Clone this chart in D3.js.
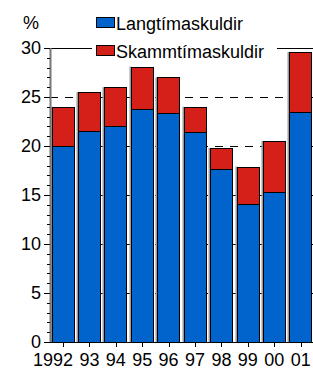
<!DOCTYPE html>
<html>
<head>
<meta charset="utf-8">
<title>Skuldir</title>
<style>
  body { margin: 0; background: #fff; }
  text { font-family: "Liberation Sans", Arial, Helvetica, sans-serif; font-size: 18px; fill: #000; }
</style>
</head>
<body>
<script src="https://cdnjs.cloudflare.com/ajax/libs/d3/7.8.5/d3.min.js"></script>
<script>
// years on the x axis
var years = ["1992", "93", "94", "95", "96", "97", "98", "99", "00", "01"];
// long-term debt, bottom part of each bar
var langtima = [20.0, 21.5, 22.0, 23.8, 23.4, 21.4, 17.7, 14.1, 15.3, 23.5];
// short-term debt, stacked on top
var skammtima = [4.0, 4.0, 4.0, 4.3, 3.6, 2.6, 2.1, 3.8, 5.2, 6.1];
var yTicks = [0, 5, 10, 15, 20, 25, 30];
var seriesNames = ["Langtímaskuldir", "Skammtímaskuldir"];
var colors = ["#0064cc", "#d5201a"];

var W = 313, H = 372;
var svg = d3.select("body").append("svg")
    .attr("width", W)
    .attr("height", H);

var x = d3.scaleBand()
    .domain(years)
    .range([49.8, 313.9])
    .paddingInner(0.14)
    .paddingOuter(0.07);

var y = d3.scaleLinear()
    .domain([0, 30])
    .range([342, 48]);

// snap a value to a crisp pixel row
function py(v) { return Math.round(y(v)) + 0.5; }

// dashed gridlines behind the bars
svg.append("g").selectAll("line")
    .data(yTicks.filter(function(d) { return d > 0 && d < 30; }))
    .enter().append("line")
    .attr("x1", 50).attr("x2", W)
    .attr("y1", function(d) { return py(d); })
    .attr("y2", function(d) { return py(d); })
    .attr("stroke", "#000")
    .attr("stroke-width", 1)
    .attr("stroke-dasharray", "8,7");

// top line at 30
svg.append("line")
    .attr("x1", 50).attr("x2", W)
    .attr("y1", py(30)).attr("y2", py(30))
    .attr("stroke", "#000");

// stack the data
var rows = years.map(function(yr, i) {
    return { year: yr, lang: langtima[i], skamm: skammtima[i] };
});
var stack = d3.stack().keys(["lang", "skamm"])(rows);

var bars = svg.append("g");
stack.forEach(function(layer, k) {
    // grey shade on the left edge
    bars.selectAll(".shade" + k)
        .data(layer)
        .enter().append("rect")
        .attr("x", function(d) { return Math.round(x(d.data.year)) - 1.5; })
        .attr("y", function(d) { return y(d[1]); })
        .attr("width", 2)
        .attr("height", function(d) { return y(d[0]) - y(d[1]); })
        .attr("fill", "#9a9a9a");
    bars.selectAll(".bar" + k)
        .data(layer)
        .enter().append("rect")
        .attr("x", function(d) { return Math.round(x(d.data.year)) + 0.5; })
        .attr("y", function(d) { return Math.round(y(d[1])) + 0.5; })
        .attr("width", Math.round(x.bandwidth()) - 1)
        .attr("height", function(d) { return Math.round(y(d[0])) - Math.round(y(d[1])); })
        .attr("fill", colors[k])
        .attr("stroke", "#000")
        .attr("stroke-width", 1);
});

// y axis
var yAxis = svg.append("g");
yAxis.append("line")
    .attr("x1", 50.5).attr("x2", 50.5)
    .attr("y1", y(0)).attr("y2", y(30))
    .attr("stroke", "#777")
    .attr("stroke-width", 2);
yAxis.selectAll(".minor")
    .data(d3.range(0, 31))
    .enter().append("line")
    .attr("x1", function(d) { return d % 5 === 0 ? 44 : 47; })
    .attr("x2", 50)
    .attr("y1", function(d) { return py(d); })
    .attr("y2", function(d) { return py(d); })
    .attr("stroke", "#000");
yAxis.selectAll("text")
    .data(yTicks)
    .enter().append("text")
    .attr("x", 41)
    .attr("y", function(d) { return y(d); })
    .attr("dy", "0.36em")
    .attr("text-anchor", "end")
    .text(function(d) { return d; });

// x axis
svg.append("line")
    .attr("x1", 50).attr("x2", W)
    .attr("y1", 342.5).attr("y2", 342.5)
    .attr("stroke", "#000");
var xAxis = svg.append("g");
xAxis.selectAll("line")
    .data(years)
    .enter().append("line")
    .attr("x1", function(d) { return Math.round(x(d) + x.bandwidth() / 2) + 0.5; })
    .attr("x2", function(d) { return Math.round(x(d) + x.bandwidth() / 2) + 0.5; })
    .attr("y1", 342).attr("y2", 347)
    .attr("stroke", "#000");
// labels: last two digits sit centred under the tick
xAxis.selectAll("text")
    .data(years)
    .enter().append("text")
    .attr("x", function(d) { return x(d) + x.bandwidth() / 2; })
    .attr("y", 366)
    .attr("dx", "0.556em")
    .attr("text-anchor", "end")
    .text(function(d) { return d; });

svg.append("text")
    .attr("x", 31)
    .attr("y", 29)
    .attr("text-anchor", "middle")
    .text("%");

// legend
var legend = svg.append("g");
legend.append("rect")
    .attr("x", 92).attr("y", 8)
    .attr("width", 185).attr("height", 54)
    .attr("fill", "#fff");
seriesNames.forEach(function(name, i) {
    var ly = 17 + i * 28;
    legend.append("rect")
        .attr("x", 96.5).attr("y", ly + 0.5)
        .attr("width", 18).attr("height", 10)
        .attr("fill", colors[i])
        .attr("stroke", "#000");
    legend.append("text")
        .attr("x", 116)
        .attr("y", ly + 12.5)
        .text(name);
});
</script>
</body>
</html>
